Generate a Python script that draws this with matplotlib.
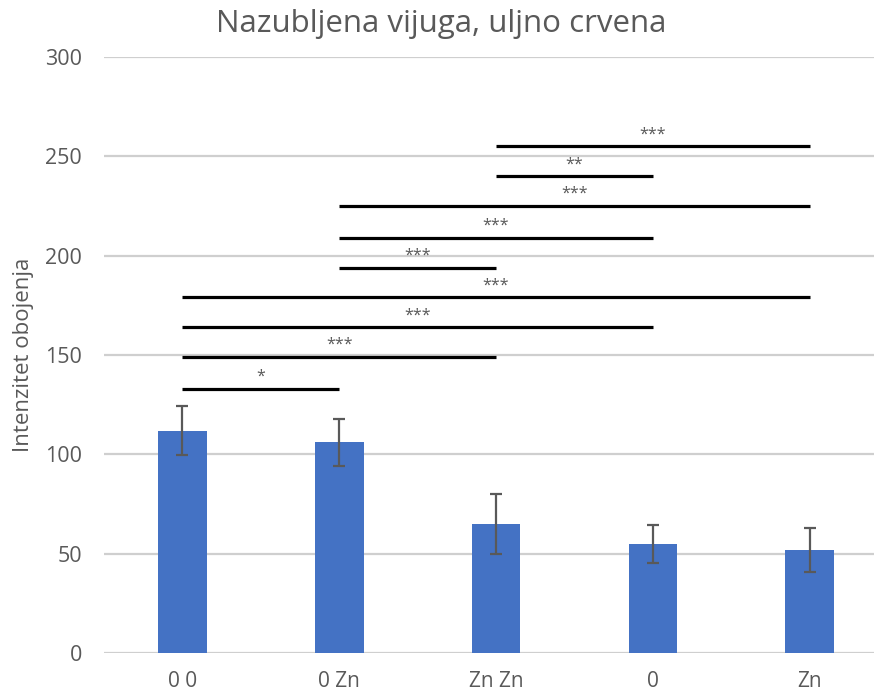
import matplotlib.pyplot as plt
import numpy as np

# podaci očitani sa slike
kategorije = ["0 0", "0 Zn", "Zn Zn", "0", "Zn"]
vrijednosti = [112, 106, 65, 55, 52]
greske = [12.5, 12, 15, 9.5, 11]

# parovi za oznake značajnosti (indeks od, indeks do, visina, oznaka)
par_od = [0, 0, 0, 0, 1, 1, 1, 2, 2]
par_do = [1, 2, 3, 4, 2, 3, 4, 3, 4]
razine = [133, 149, 164, 179, 194, 209, 225, 240, 255]
oznake = ["*", "***", "***", "***", "***", "***", "***", "**", "***"]

plt.rcParams['font.family'] = ['Open Sans', 'DejaVu Sans']
siva = "#595959"

fig = plt.figure(figsize=(8.74, 6.95), dpi=100)
ax = fig.add_axes([0.119, 0.0604, 0.881, 0.8576])

x = np.arange(len(kategorije))
ax.bar(x, vrijednosti, width=0.31, color="#4472C4", zorder=3)
ax.errorbar(x, vrijednosti, yerr=greske, fmt="none", ecolor=siva,
            elinewidth=1.6, capsize=4.5, capthick=1.6, zorder=4)

# linije značajnosti
for a, b, h, t in zip(par_od, par_do, razine, oznake):
    ax.plot([a, b], [h, h], color="black", lw=2.3, solid_capstyle="butt", zorder=5)
    ax.text((a + b) / 2, h + 2, t, ha="center", va="bottom",
            fontsize=11.5, color=siva, zorder=5)

ax.set_ylim(0, 300)
ax.set_xlim(-0.5, 4.41)
ax.set_yticks(range(0, 301, 50))
ax.set_xticks(x)
ax.set_xticklabels(kategorije)
ax.yaxis.grid(True, color="#cfcfcf", lw=1.6, zorder=0)
ax.set_axisbelow(True)
for s in ax.spines.values():
    s.set_visible(False)
ax.tick_params(axis="both", length=0, colors=siva)
ax.tick_params(axis="x", pad=13, labelsize=15)
ax.tick_params(axis="y", pad=16, labelsize=15.5)

ax.set_ylabel("Intenzitet obojenja", fontsize=16, color=siva, labelpad=8)
fig.text(0.505, 0.966, "Nazubljena vijuga, uljno crvena", ha="center",
         va="center", fontsize=22.5, color=siva)

plt.savefig("out.png", dpi=100)
